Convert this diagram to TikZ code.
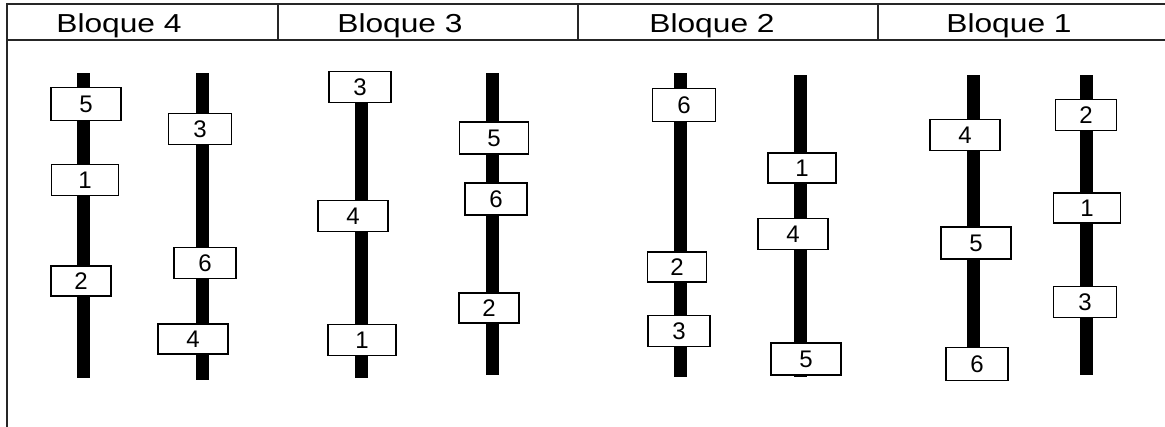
\documentclass[tikz,border=0pt]{standalone}
\usepackage{fontspec}
\usepackage{graphicx}
\setmainfont{Liberation Sans}
\tikzset{
  hdrline/.style={line width=1.4pt, black!85},
  post/.style={fill=black},
  numbox/.style={draw=black, line width=1.2pt, fill=white, inner sep=0pt,
    minimum height=31pt, font=\fontsize{24}{24}\selectfont},
  hdrtext/.style={anchor=base, inner sep=0pt, font=\fontsize{26}{26}\selectfont}
}
\newcommand{\postbar}[3]{\fill[post] (#1-6.5,#2) rectangle (#1+6.5,#3);}
\begin{document}
\begin{tikzpicture}[x=1pt,y=-1pt]
\useasboundingbox (0,0) rectangle (1165,427);
% header frame
\draw[hdrline] (7,4) -- (1165,4);
\draw[hdrline] (7,40) -- (1165,40);
\draw[black!85, line width=2pt] (7,3) -- (7,427);
\draw[hdrline] (278,4) -- (278,40);
\draw[hdrline] (578,4) -- (578,40);
\draw[hdrline] (878,4) -- (878,40);
\node[hdrtext] (h4) at (119,33) {\scalebox{1.22}[1]{Bloque 4}};
\node[hdrtext] (h3) at (400,33) {\scalebox{1.22}[1]{Bloque 3}};
\node[hdrtext] (h2) at (712,33) {\scalebox{1.22}[1]{Bloque 2}};
\node[hdrtext] (h1) at (1009,33) {\scalebox{1.22}[1]{Bloque 1}};
% posts
\postbar{83}{73}{378}
\postbar{202}{73}{380}
\postbar{361}{73}{378}
\postbar{492}{73}{375}
\postbar{680}{73}{377}
\postbar{800}{75}{377}
\postbar{973}{75}{380}
\postbar{1086}{75}{375}
% Bloque 4
\node[numbox, minimum width=70pt, minimum height=33pt] (b4a) at (86,104) {5};
\node[numbox, minimum width=67pt] (b4b) at (85,180) {1};
\node[numbox, minimum width=60pt, minimum height=30pt] (b4c) at (81,281) {2};
\node[numbox, minimum width=63pt] (b4d) at (200,129) {3};
\node[numbox, minimum width=62pt] (b4e) at (205,263) {6};
\node[numbox, minimum width=70pt, minimum height=30pt] (b4f) at (193,339) {4};
% Bloque 3
\node[numbox, minimum width=62pt] (b3a) at (360,87) {3};
\node[numbox, minimum width=70pt] (b3b) at (353,216) {4};
\node[numbox, minimum width=68pt] (b3c) at (362,340) {1};
\node[numbox, minimum width=69pt, minimum height=32pt] (b3d) at (494,138) {5};
\node[numbox, minimum width=62pt, minimum height=32pt] (b3e) at (496,199) {6};
\node[numbox, minimum width=60pt, minimum height=30pt] (b3f) at (489,308) {2};
% Bloque 2
\node[numbox, minimum width=63pt, minimum height=33pt] (b2a) at (684,105) {6};
\node[numbox, minimum width=59pt, minimum height=30pt] (b2b) at (677,267) {2};
\node[numbox, minimum width=62pt] (b2c) at (679,331) {3};
\node[numbox, minimum width=68pt, minimum height=30pt] (b2d) at (802,168) {1};
\node[numbox, minimum width=70pt] (b2e) at (793,234) {4};
\node[numbox, minimum width=70pt, minimum height=32pt] (b2f) at (806,359) {5};
% Bloque 1
\node[numbox, minimum width=70pt] (b1a) at (965,135) {4};
\node[numbox, minimum width=70pt, minimum height=32pt] (b1b) at (976,243) {5};
\node[numbox, minimum width=62pt, minimum height=33pt] (b1c) at (977,364) {6};
\node[numbox, minimum width=61pt] (b1d) at (1086,115) {2};
\node[numbox, minimum width=67pt, minimum height=30pt] (b1e) at (1087,208) {1};
\node[numbox, minimum width=63pt] (b1f) at (1085,302) {3};
\end{tikzpicture}
\end{document}
